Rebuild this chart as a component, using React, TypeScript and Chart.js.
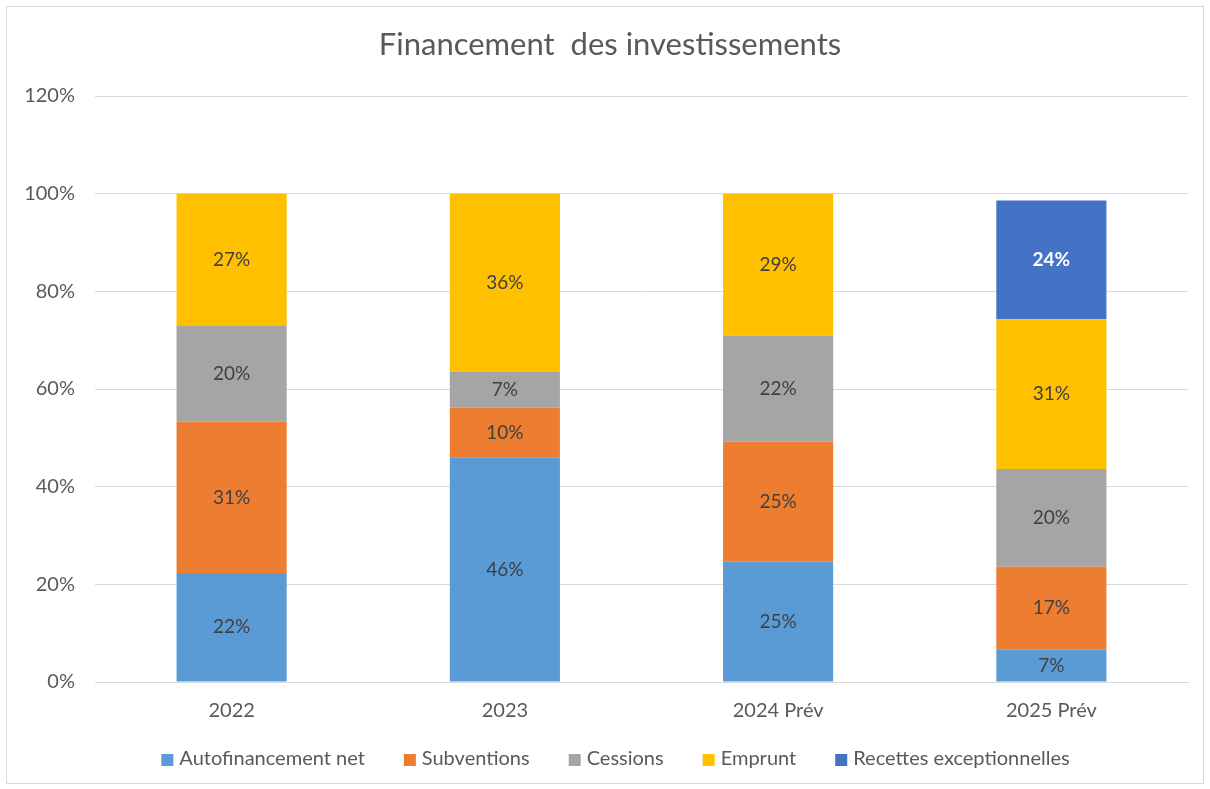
import React, { useEffect, useRef } from "react";
import { Chart, registerables } from "chart.js";

Chart.register(...registerables);

const categories = ["2022", "2023", "2024 Prév", "2025 Prév"];
const autofinancement = [22.3, 46.0, 24.6, 6.6];
const subventions = [31.0, 10.2, 24.6, 17.0];
const cessions = [19.6, 7.4, 21.7, 20.0];
const emprunt = [27.1, 36.4, 29.1, 30.7];
const recettes = [0, 0, 0, 24.3];
const seriesNames = ["Autofinancement net", "Subventions", "Cessions", "Emprunt", "Recettes exceptionnelles"];
const seriesColors = ["#5B9BD5", "#ED7D31", "#A5A5A5", "#FFC000", "#4472C4"];
const yTicks = [0, 20, 40, 60, 80, 100, 120];
const titleText = "Financement  des investissements";

const FONT = "Lato, 'Open Sans', sans-serif";
const TEXT = "#595959";

const labelPlugin = {
  id: "segLabels",
  afterDatasetsDraw(chart: any) {
    const ctx = chart.ctx;
    ctx.save();
    ctx.textAlign = "center";
    ctx.textBaseline = "middle";
    chart.data.datasets.forEach((ds: any, di: number) => {
      const meta = chart.getDatasetMeta(di);
      meta.data.forEach((el: any, i: number) => {
        const v = ds.data[i];
        if (!v) return;
        const isLast = di === 4;
        ctx.font = (isLast ? "bold " : "") + "19px " + FONT;
        ctx.fillStyle = isLast ? "#FFFFFF" : "#404040";
        ctx.fillText(Math.round(v) + "%", el.x, (el.y + el.base) / 2);
      });
    });
    ctx.restore();
  },
};

const titleLegendPlugin = {
  id: "titleLegend",
  afterDraw(chart: any) {
    const ctx = chart.ctx;
    ctx.save();
    // title
    ctx.font = "31px " + FONT;
    ctx.fillStyle = TEXT;
    ctx.textAlign = "center";
    ctx.textBaseline = "middle";
    ctx.fillText(titleText, 610, 45);
    // legend
    ctx.font = "20px " + FONT;
    ctx.textAlign = "left";
    const box = 12;
    const gapBoxText = 6;
    const gapItems = 39;
    const widths = seriesNames.map((n) => ctx.measureText(n).width);
    const total =
      widths.reduce((a, w) => a + box + gapBoxText + w, 0) + gapItems * (seriesNames.length - 1);
    let x = 615.5 - total / 2;
    const cy = 759;
    seriesNames.forEach((n, i) => {
      ctx.fillStyle = seriesColors[i];
      ctx.fillRect(x, cy - box / 2 + 1, box, box);
      x += box + gapBoxText;
      ctx.fillStyle = TEXT;
      ctx.fillText(n, x, cy);
      x += widths[i] + gapItems;
    });
    ctx.restore();
  },
};

export default function App() {
  const ref = useRef<HTMLCanvasElement>(null);
  useEffect(() => {
    const series = [autofinancement, subventions, cessions, emprunt, recettes];
    const chart = new Chart(ref.current!, {
      type: "bar",
      data: {
        labels: categories,
        datasets: series.map((d, i) => ({
          label: seriesNames[i],
          data: d,
          backgroundColor: seriesColors[i],
          borderWidth: 0,
          barPercentage: 0.403,
          categoryPercentage: 1,
        })),
      },
      options: {
        animation: false,
        responsive: false,
        layout: { padding: { left: 8, right: 22, top: 96, bottom: 57 } },
        plugins: {
          title: { display: false },
          legend: { display: false },
          tooltip: { enabled: false },
        },
        scales: {
          x: {
            stacked: true,
            grid: { display: false },
            border: { color: "#D9D9D9", width: 1 },
            ticks: { color: TEXT, font: { family: FONT, size: 20 }, padding: 9 },
            afterFit: (s: any) => {
              s.height = 50;
            },
          },
          y: {
            stacked: true,
            min: 0,
            max: 120,
            afterBuildTicks: (s: any) => {
              s.ticks = yTicks.map((v) => ({ value: v }));
            },
            afterFit: (s: any) => {
              s.width = 87;
            },
            grid: { color: "#D9D9D9", drawTicks: false },
            border: { display: false },
            ticks: {
              color: TEXT,
              font: { family: FONT, size: 20 },
              padding: 20,
              callback: (v: any) => v + "%",
            },
          },
        },
      },
      plugins: [labelPlugin, titleLegendPlugin],
    } as any);
    return () => chart.destroy();
  }, []);
  return (
    <div style={{ position: "fixed", left: 0, top: 0, width: 1210, height: 789, background: "#fff" }}>
      <div style={{ position: "absolute", left: 6, top: 6, width: 1198, height: 778, border: "1px solid #D9D9D9", boxSizing: "border-box" }} />
      <canvas ref={ref} width={1210} height={789} style={{ position: "absolute", left: 0, top: 0 }} />
    </div>
  );
}
